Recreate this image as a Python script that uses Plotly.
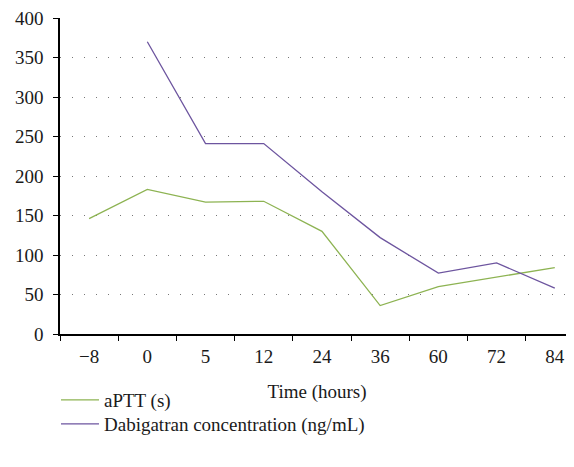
import plotly.graph_objects as go

time_labels = ["\u22128", "0", "5", "12", "24", "36", "60", "72", "84"]
aptt = [146, 183, 167, 168, 130, 36, 60, 72, 84]
dabi_labels = time_labels[1:]
dabigatran = [370, 241, 241, 180, 122, 77, 90, 58]

FONT = "Liberation Serif, Times New Roman, serif"
TXT = "#1a1a1a"
FS = 19

fig = go.Figure()
fig.add_trace(go.Scatter(x=time_labels, y=aptt, mode="lines", name="aPTT (s)",
                         line=dict(color="#8db352", width=1.3), legend="legend"))
fig.add_trace(go.Scatter(x=dabi_labels, y=dabigatran, mode="lines",
                         name="Dabigatran concentration (ng/mL)",
                         line=dict(color="#6d559f", width=1.3), legend="legend2"))

leg_common = dict(x=-0.0078, xanchor="left", yanchor="middle", orientation="v",
                  itemwidth=38, font=dict(family=FONT, size=FS, color=TXT),
                  bgcolor="rgba(0,0,0,0)")

fig.update_layout(
    width=574, height=467,
    margin=dict(l=52, r=8, t=10, b=141),
    plot_bgcolor="white", paper_bgcolor="white",
    font=dict(family=FONT, size=FS, color=TXT),
    showlegend=True,
    legend=dict(y=-0.209, **leg_common),
    legend2=dict(y=-0.285, **leg_common),
    xaxis=dict(type="category", categoryorder="array", categoryarray=time_labels,
               range=[-0.5, 8.33], showline=True, linecolor="black", linewidth=1.5,
               ticks="outside", tickson="boundaries", ticklen=5, tickcolor="black",
               tickwidth=1.3, showgrid=False, zeroline=False, automargin=False,
               ticklabelstandoff=4,
               tickfont=dict(family=FONT, size=FS, color=TXT),
               title=dict(text="Time (hours)", standoff=19,
                          font=dict(family=FONT, size=FS, color=TXT))),
    yaxis=dict(range=[0, 400], dtick=50, showline=True, linecolor="black", linewidth=1.5,
               ticks="outside", ticklen=5, tickcolor="black", tickwidth=1.3,
               showgrid=True, gridcolor="#777777", gridwidth=1, griddash="1px,11px",
               zeroline=False, automargin=False, ticklabelstandoff=6,
               ticklabeloverflow="allow",
               tickfont=dict(family=FONT, size=FS, color=TXT)),
)

fig.write_html("out.html")
